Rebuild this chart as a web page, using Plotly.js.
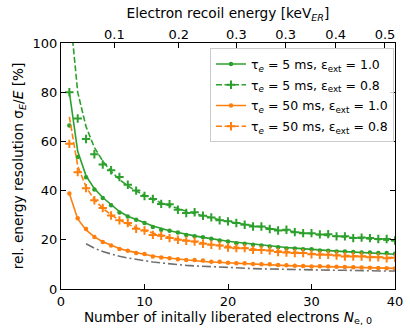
<!DOCTYPE html>
<html>
<head>
<meta charset="utf-8">
<script src="https://cdn.plot.ly/plotly-3.0.1.min.js"></script>
<style>
  body { margin: 0; background: white; }
  #resChart { width: 410px; height: 332px; }
</style>
</head>
<body>
<div id="resChart"></div>
<script>
// number of initially liberated electrons
var nElectrons = [];
for (var n = 1; n <= 40; n++) { nElectrons.push(n); }

// tau = 5 ms, eps = 1.0
var green10Model = [80, 56, 46, 40.8, 37.2, 34.2, 31.5, 29.6, 28.1, 26.9,
  25.6, 24.6, 23.7, 23, 22.2, 21.6, 21, 20.4, 19.9, 19.4,
  19, 18.6, 18.2, 17.8, 17.5, 17.2, 16.9, 16.6, 16.3, 16.1,
  15.8, 15.6, 15.4, 15.2, 15.0, 14.8, 14.6, 14.4, 14.3, 14.1];
var green10Sim = [66.5, 53.7, 45.4, 40.4, 37, 34, 31.1, 29.5, 28.2, 26.8,
  25.2, 24.1, 23.7, 23, 22, 21.4, 21, 20.4, 19.7, 19.3,
  18.6, 18.4, 18, 17.7, 17.3, 17, 16.5, 16.5, 16.2, 16.2,
  15.6, 15.5, 15.2, 15.2, 15, 14.8, 14.8, 14.6, 14.6, 14.3];

// tau = 5 ms, eps = 0.8
var green08Model = [115, 80, 66, 57.5, 52, 47.8, 44.5, 41.9, 39.8, 38,
  36.5, 35, 33.8, 32.6, 31.6, 30.6, 29.7, 28.9, 28.1, 27.4,
  26.8, 26.2, 25.6, 25.1, 24.6, 24.1, 23.7, 23.2, 22.8, 22.4,
  22.0, 21.7, 21.4, 21.1, 20.8, 20.5, 20.3, 20.0, 19.8, 19.6];
var green08Sim = [80, 69.3, 61, 54.8, 50.6, 48.3, 45.5, 42.4, 40, 37.8,
  36.6, 34.6, 34.5, 32.2, 30.9, 31.2, 29.8, 29.1, 27.9, 27.5,
  26.8, 26.1, 25.4, 25.4, 24.4, 23.8, 24.1, 23.1, 22.7, 22.7,
  22.2, 22.3, 21.4, 21.4, 20.7, 20.9, 20.7, 20.3, 20.3, 19.7];

// tau = 50 ms, eps = 1.0
var orange10Model = [38.8, 28.5, 24, 21.2, 19.2, 17.7, 16.5, 15.5, 14.7, 14.0,
  13.4, 12.9, 12.5, 12.1, 11.8, 11.5, 11.2, 11.0, 10.8, 10.6,
  10.4, 10.2, 10.1, 9.9, 9.8, 9.7, 9.5, 9.4, 9.3, 9.2,
  9.1, 9.0, 8.9, 8.8, 8.7, 8.7, 8.6, 8.5, 8.5, 8.4];
var orange10Sim = [38.8, 28.8, 24.4, 21.1, 19.1, 17.7, 16.3, 15.5, 14.6, 14.2,
  13.2, 12.8, 12.5, 12.1, 11.8, 11.8, 11.6, 11.1, 11.1, 10.7,
  10.5, 10.5, 10.2, 10.1, 10.1, 9.8, 9.7, 9.5, 9.4, 9.1,
  9.2, 9.1, 9.0, 8.9, 8.8, 8.7, 8.6, 8.5, 8.4, 8.3];

// tau = 50 ms, eps = 0.8
var orange08Model = [70, 50, 41.5, 36.3, 32.8, 30.1, 28, 26.3, 24.9, 23.7,
  22.7, 21.8, 21, 20.3, 19.7, 19.1, 18.6, 18.1, 17.7, 17.3,
  16.9, 16.6, 16.2, 15.9, 15.6, 15.4, 15.1, 14.9, 14.6, 14.4,
  14.2, 14.0, 13.8, 13.6, 13.5, 13.3, 13.1, 13.0, 12.8, 12.7];
var orange08Sim = [59, 47.5, 41, 36.1, 32.9, 29.9, 27.9, 26.8, 24.5, 23.8,
  22, 21.6, 20.7, 20, 19.6, 19.3, 18.4, 18, 17.7, 16.9,
  16.6, 16.6, 15.9, 15.9, 15.6, 15, 14.8, 14.6, 14.6, 14.1,
  13.9, 13.9, 13.6, 13.2, 13.2, 13.2, 12.9, 12.9, 12.5, 12.7];

// lower limit (grey dash-dot), starts at N = 3
var limitN = nElectrons.slice(2);
var limitValues = [18.4, 16.6, 15.2, 14.2, 13.3, 12.6, 12.0, 11.4,
  11.0, 10.6, 10.2, 9.9, 9.6, 9.4, 9.2, 9.0, 8.8, 8.6,
  8.5, 8.4, 8.3, 8.2, 8.1, 8.0, 7.9, 7.9, 7.8, 7.8,
  7.7, 7.7, 7.6, 7.6, 7.5, 7.5, 7.4, 7.4, 7.3, 7.3];

// top axis: electron recoil energy
var energyTickPos = [6.4, 14.1, 21.0, 26.9, 32.9, 38.8];
var energyTickText = ["0.1", "0.2", "0.3", "0.3", "0.4", "0.5"];

var green = "#2ca02c";
var orange = "#ff7f0e";

function seriesTraces(model, sim, color, dashed, label, group) {
    var dash = dashed ? "6px,2.5px" : "solid";
    var marker = dashed
        ? { symbol: "cross-thin", size: 6, line: { color: color, width: 2 } }
        : { symbol: "circle", size: 4.5, color: color };
    var line = {
        x: nElectrons, y: model, type: "scatter", mode: "lines",
        line: { color: color, width: 1.6, dash: dash },
        showlegend: false, hoverinfo: "skip"
    };
    var points = {
        x: nElectrons, y: sim, type: "scatter", mode: "markers",
        marker: marker, showlegend: false
    };
    // legend entry only
    var legendEntry = {
        x: [null], y: [null], type: "scatter", mode: "lines+markers",
        line: { color: color, width: 1.6, dash: dash },
        marker: marker, name: label, legendgroup: group
    };
    return [line, points, legendEntry];
}

var data = [];
data = data.concat(seriesTraces(green10Model, green10Sim, green, false,
    "τ<sub><i>e</i></sub> = 5 ms, ε<sub>ext</sub> = 1.0", "a"));
data = data.concat(seriesTraces(green08Model, green08Sim, green, true,
    "τ<sub><i>e</i></sub> = 5 ms, ε<sub>ext</sub> = 0.8", "b"));
data = data.concat(seriesTraces(orange10Model, orange10Sim, orange, false,
    "τ<sub><i>e</i></sub> = 50 ms, ε<sub>ext</sub> = 1.0", "c"));
data = data.concat(seriesTraces(orange08Model, orange08Sim, orange, true,
    "τ<sub><i>e</i></sub> = 50 ms, ε<sub>ext</sub> = 0.8", "d"));

data.push({
    x: limitN, y: limitValues, type: "scatter", mode: "lines",
    line: { color: "#707070", width: 1.6, dash: "9px,3px,2px,3px" },
    showlegend: false, hoverinfo: "skip"
});

// empty trace so the top axis gets drawn
data.push({ x: [null], y: [null], xaxis: "x2", showlegend: false });

var layout = {
    width: 410,
    height: 332,
    margin: { l: 61, r: 15, t: 43, b: 43 },
    paper_bgcolor: "white",
    plot_bgcolor: "white",
    font: { family: "DejaVu Sans", size: 12, color: "black" },
    xaxis: {
        range: [0, 40],
        tickvals: [0, 10, 20, 30, 40],
        ticks: "inside", ticklen: 5, tickcolor: "black",
        showline: true, linecolor: "black", linewidth: 1, mirror: true,
        showgrid: false, zeroline: false,
        tickfont: { size: 13 },
        title: { text: "Number of initally liberated electrons <i>N</i><sub>e, 0</sub>",
                 font: { size: 13.7 }, standoff: 3 }
    },
    xaxis2: {
        overlaying: "x", side: "top",
        range: [0, 40],
        tickvals: energyTickPos, ticktext: energyTickText,
        ticks: "inside", ticklen: 5, tickcolor: "black",
        showgrid: false, zeroline: false, showline: false,
        tickfont: { size: 13 },
        title: { text: "Electron recoil energy [keV<sub><i>ER</i></sub>]",
                 font: { size: 13.7 }, standoff: 5 }
    },
    yaxis: {
        range: [0, 100],
        tickvals: [0, 20, 40, 60, 80, 100],
        ticks: "inside", ticklen: 5, tickcolor: "black",
        showline: true, linecolor: "black", linewidth: 1, mirror: "ticks",
        showgrid: false, zeroline: false,
        tickfont: { size: 13 },
        title: { text: "rel. energy resolution σ<sub><i>E</i></sub>/<i>E</i> [%]",
                 font: { size: 13.7 }, standoff: 5 }
    },
    legend: {
        x: 0.997, xanchor: "right",
        y: 0.978, yanchor: "top",
        bgcolor: "rgba(255,255,255,0.8)",
        bordercolor: "#cccccc", borderwidth: 1,
        tracegroupgap: 1.5,
        font: { size: 12.5 }
    }
};

Plotly.newPlot("resChart", data, layout, { displayModeBar: false, staticPlot: true });
</script>
</body>
</html>
